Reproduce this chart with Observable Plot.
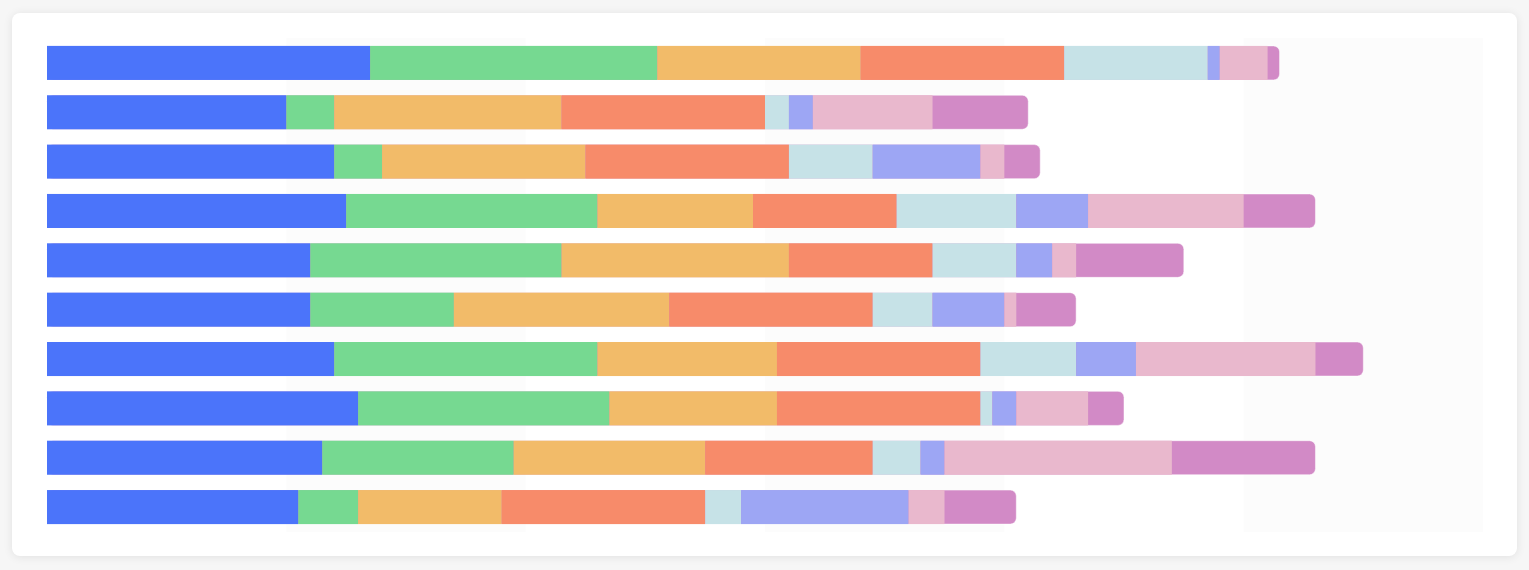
<!DOCTYPE html>
<html>
<head>
<meta charset="utf-8">
<script src="https://cdn.jsdelivr.net/npm/d3@7"></script>
<script src="https://cdn.jsdelivr.net/npm/@observablehq/plot@0.6"></script>
<style>
  html, body { margin: 0; padding: 0; background: #f6f6f6; }
  body { width: 1529px; height: 570px; position: relative; overflow: hidden; font-family: "Noto Sans", sans-serif; }
  #card { position: absolute; left: 12px; top: 13px; width: 1505px; height: 543px; background: #fff;
          border-radius: 8px; box-shadow: 0 1px 10px rgba(0,0,0,0.09); overflow: hidden; }
  #card svg { display: block; }
</style>
</head>
<body>
<div id="card"></div>
<script>
const rows = ["r1","r2","r3","r4","r5","r6","r7","r8","r9","r10"];
const seriesNames = ["s1","s2","s3","s4","s5","s6","s7","s8"];
const s1 = [27,20,24,25,22,22,24,26,23,21];
const s2 = [24,4,4,21,21,12,22,21,16,5];
const s3 = [17,19,17,13,19,18,15,14,16,12];
const s4 = [17,17,17,12,12,17,17,17,14,17];
const s5 = [12,2,7,10,7,5,8,1,4,3];
const s6 = [1,2,9,6,3,6,5,2,2,14];
const s7 = [4,10,2,13,2,1,15,6,19,3];
const s8 = [1,8,3,6,9,5,4,3,12,6];
const colors = ["#4b74fa","#76d991","#f2bb69","#f78b6a","#c6e2e7","#9da6f4","#e9b8cd","#d28ac6"];
const xTicks = [0,20,40,60,80,100,120];

const seriesValues = [s1,s2,s3,s4,s5,s6,s7,s8];
const data = [];
seriesNames.forEach((s, si) => {
  rows.forEach((r, ri) => data.push({row: r, series: s, value: seriesValues[si][ri]}));
});
const inner = data.filter(d => d.series !== "s8");
const totals = rows.map((r, ri) => ({row: r, total: seriesValues.reduce((a, arr) => a + arr[ri], 0)}));
const stripes = [];
for (let i = 1; i < xTicks.length; i += 2) stripes.push({x1: xTicks[i], x2: xTicks[i + 1]});

const chart = Plot.plot({
  width: 1505,
  height: 543,
  marginLeft: 35,
  marginRight: 34,
  marginTop: 25,
  marginBottom: 24,
  x: {domain: [0, 120], axis: null},
  y: {domain: rows, axis: null, paddingInner: 0.31, paddingOuter: 0.16, round: false},
  color: {domain: seriesNames, range: colors},
  marks: [
    Plot.rect(stripes, {x1: "x1", x2: "x2", fill: "#fcfcfc"}),
    Plot.barX(totals, {x: "total", y: "row", fill: colors[7], rx: 6, stroke: "#fff", strokeOpacity: 0.5, strokeWidth: 1}),
    Plot.barX(inner, {x: "value", y: "row", fill: "series", order: seriesNames})
  ]
});
document.getElementById("card").appendChild(chart);
</script>
</body>
</html>
